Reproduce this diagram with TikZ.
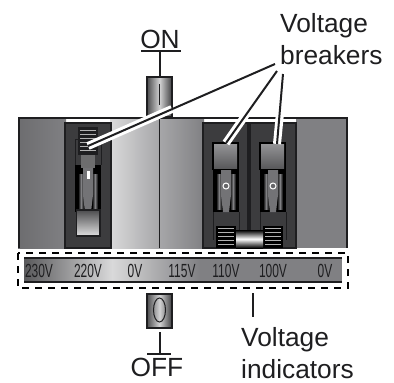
\documentclass[tikz,border=0pt]{standalone}
\usepackage{xcolor}
\usepackage{fontspec}
\setmainfont{Liberation Sans}
\usepackage{tikz}

\definecolor{slotgray}{HTML}{3C3C3E}
\definecolor{panelgray}{HTML}{808083}
\definecolor{edgegray}{HTML}{1E1E20}

\tikzset{
  outline/.style={draw=edgegray, line width=1.6pt},
  caption/.style={inner sep=0pt, align=left, text=edgegray, font=\fontsize{26.3}{32}\selectfont},
  tagtext/.style={inner sep=0pt, text=edgegray, xscale=0.63, font=\fontsize{19}{20}\selectfont},
  leader/.style={draw=edgegray, line width=2pt},
  casing/.style={draw=white, line width=8pt},
  rib/.style={draw=white!70!black, line width=0.8pt}
}

\begin{document}
\begin{tikzpicture}[x=1pt, y=-1pt]
  \useasboundingbox (0,0) rectangle (394,383);
  % panel
  \shade[left color=panelgray!85!black, right color=panelgray] (18,117) rectangle (66,248);
  \shade[left color=white!70!panelgray, right color=panelgray!70!white] (110,117) rectangle (160,248);
  \shade[left color=panelgray!70!white, right color=panelgray] (160,117) rectangle (204,248);
  \fill[panelgray] (296,117) rectangle (348,248);
  \draw[outline] (18.8,248) -- (18.8,117.8) -- (347.2,117.8) -- (347.2,248);
  \draw[outline] (159.5,117) -- (159.5,248);

  % slots
  \draw[outline, fill=slotgray] (65,123) rectangle (111,248);
  \draw[outline, fill=slotgray] (203,123) rectangle (248,248);
  \draw[outline, fill=slotgray] (250,123) rectangle (296,248);

  % levers
  \foreach \sx in {88,226,273} {
    \fill[black] ({\sx-13},165) rectangle ({\sx+13},212);
    \shade[left color=black, right color=black, middle color=panelgray] ({\sx-10},174) rectangle ({\sx-4},209);
    \shade[left color=black, right color=black, middle color=panelgray] ({\sx+4},174) rectangle ({\sx+10},209);
    \fill[panelgray!90!black] ({\sx-5},165) -- ({\sx+5},165) -- ({\sx+5},195) -- ({\sx+3},212) -- ({\sx-3},212) -- ({\sx-5},195) -- cycle;
  }

  % left switch, cap at the bottom
  \fill[edgegray] (78,127) rectangle (98,155);
  \draw[outline, line width=0.8pt] (75,165) -- (75,139) -- (101,139) -- (101,165);
  \foreach \y in {130,134,138,142,146,150} {
    \draw[rib] (80,\y) -- (96,\y);
  }
  \fill[slotgray!75!white] (81,155) rectangle (95,168);
  \fill[white] (87,171) rectangle (89.5,179);
  \shade[outline, line width=1.2pt, top color=panelgray!60!black, bottom color=white!75!panelgray] (76.5,210) rectangle (100,236);

  % right switches, cap at the top
  \foreach \sx in {226,273} {
    \fill[black] ({\sx-14},142) rectangle ({\sx+13},170);
    \shade[top color=panelgray!85!white, bottom color=panelgray!70!black] ({\sx-12},144) rectangle ({\sx+11},168);
    \draw[white, line width=1pt, fill=panelgray!80!black] (\sx,186) circle (3);
    \draw[outline, line width=0.8pt] ({\sx-13},212) -- ({\sx-13},240) ({\sx+13},212) -- ({\sx+13},240);
    \fill[black] ({\sx-10},226) rectangle ({\sx+10},248);
    \foreach \y in {228,232,236,240,244} {
      \draw[rib] ({\sx-8},\y) -- ({\sx+8},\y);
    }
  }
  \shade[top color=black, bottom color=black, middle color=white] (236,230) rectangle (263,248);

  % indicator band
  \shade[left color=panelgray!70!black, right color=white!70!panelgray] (24,258) rectangle (112,282);
  \shade[left color=white!70!panelgray, right color=panelgray] (112,258) rectangle (200,282);
  \fill[panelgray] (200,258) rectangle (342,282);
  \draw[outline, line width=1.2pt] (24,258) -- (342,258) (24,282) -- (342,282);
  \draw[draw=black, line width=2pt, dash pattern=on 7pt off 6pt] (18,253) rectangle (348,288);
  \foreach \x/\lbl/\nm in {39/230V/a, 88/220V/b, 135/0V/c, 182/115V/d, 226/110V/e, 273/100V/f, 325/0V/g} {
    \node[tagtext] (tag\nm) at (\x,271) {\lbl};
  }

  % handles
  \shade[outline, left color=panelgray!60!black, right color=panelgray!50!black, middle color=white!65!panelgray] (147,77) rectangle (172,117);
  \draw[edgegray, line width=1pt] (159.5,84) -- (159.5,105);
  \shade[outline, left color=panelgray!60!black, right color=panelgray!50!black, middle color=white!65!panelgray] (147,294) rectangle (172,328);
  \draw[edgegray, line width=1pt] (159.5,310) ellipse (6 and 12);

  % labels
  \node[caption] (onlbl) at (160,39) {ON};
  \node[caption] (offlbl) at (157,367) {OFF};
  \node[caption, anchor=west] (brklbl) at (280,39.5) {Voltage\\breakers};
  \node[caption, anchor=west] (indlbl) at (241,353) {Voltage\\indicators};

  \coordinate (onbar1) at (141,51);
  \coordinate (onbar2) at (181,51);
  \coordinate (onstem) at (160,51);
  \coordinate (onhandle) at (160,77);
  \coordinate (offbar1) at (147,354);
  \coordinate (offbar2) at (171,354);
  \coordinate (offstem) at (160,354);
  \coordinate (offhandle) at (160,332);
  \draw[leader, line width=1.4pt] (onbar1) -- (onbar2);
  \draw[leader] (onstem) -- (onhandle);
  \draw[leader, line width=1.4pt] (offbar1) -- (offbar2);
  \draw[leader] (offstem) -- (offhandle);

  \coordinate (indtop) at (253,293);
  \coordinate (indbot) at (253,317);
  \draw[leader] (indtop) -- (indbot);

  % leaders to the breakers, white only inside the panel
  \coordinate (brka) at (275,64);
  \coordinate (brkb) at (277,71);
  \coordinate (brkc) at (283,74);
  \coordinate (enda) at (88,146);
  \coordinate (endb) at (226,143);
  \coordinate (endc) at (277,144);
  \coordinate (cuta) at (172,109);
  \coordinate (cutb) at (247,113);
  \coordinate (cutc) at (280,113);
  \draw[casing] (cuta) -- (enda);
  \draw[casing] (cutb) -- (endb);
  \draw[casing] (cutc) -- (endc);
  \draw[leader] (brka) -- (enda);
  \draw[leader] (brkb) -- (endb);
  \draw[leader] (brkc) -- (endc);
\end{tikzpicture}
\end{document}
